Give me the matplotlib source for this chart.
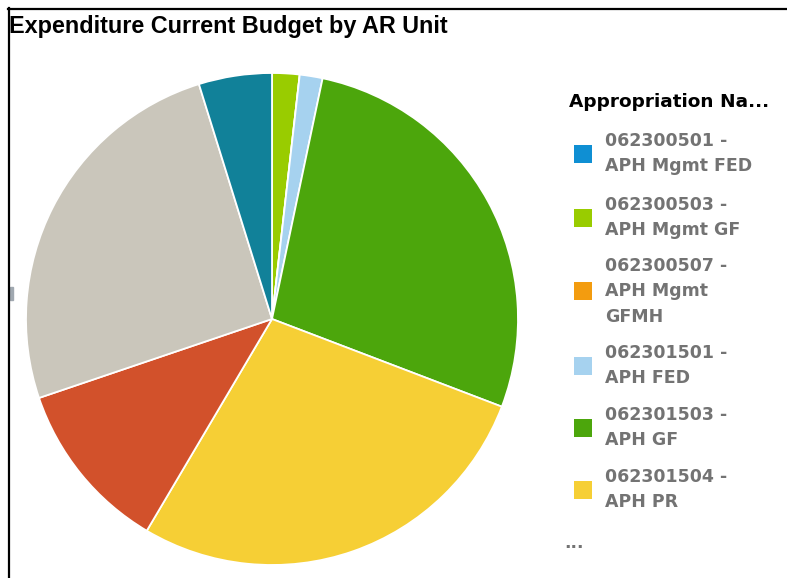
import matplotlib.pyplot as plt
from matplotlib.lines import Line2D
from matplotlib.patches import Rectangle

# budget share per appropriation (percent), clockwise from 12 o'clock
names = [
    "062300501 -\nAPH Mgmt FED",
    "062300503 -\nAPH Mgmt GF",
    "062300507 -\nAPH Mgmt\nGFMH",
    "062301501 -\nAPH FED",
    "062301503 -\nAPH GF",
    "062301504 -\nAPH PR",
    None,
    None,
    None,
]
shares = [0.0, 1.8, 0.0, 1.5, 27.5, 27.7, 11.3, 25.4, 4.8]
colors = ["#0f8fd3", "#99cc00", "#f39c0f", "#a6d2ef", "#4ca60c",
          "#f6cf35", "#d2512b", "#cac6bb", "#118199"]

W, H = 787, 578
fig = plt.figure(figsize=(W / 100, H / 100), dpi=100)

# pie area in pixels: centre (272, 319), radius 246
cx, cy, r = 272, 319, 246
ax = fig.add_axes([(cx - r) / W, (H - cy - r) / H, 2 * r / W, 2 * r / H])
ax.pie(shares, colors=colors, startangle=90, counterclock=False, radius=1,
       wedgeprops=dict(edgecolor="white", linewidth=1.3))
ax.set_xlim(-1, 1)
ax.set_ylim(-1, 1)
ax.set_aspect("equal")
ax.axis("off")

# frame lines on top and left
fig.add_artist(Line2D([8 / W, 1], [1 - 8.5 / H, 1 - 8.5 / H], color="black",
                      linewidth=1.6, transform=fig.transFigure))
fig.add_artist(Line2D([8.5 / W, 8.5 / W], [0, 1 - 8 / H], color="black",
                      linewidth=1.6, transform=fig.transFigure))
fig.add_artist(Rectangle((10 / W, 1 - 300 / H), 3 / W, 13 / H, color="#a0a8b0",
                         transform=fig.transFigure))

fig.text(9 / W, 1 - 27 / H, "Expenditure Current Budget by AR Unit",
         fontsize=16.8, fontweight="bold", family="Liberation Sans",
         va="center", ha="left", color="black")

# legend
fig.text(569 / W, 1 - 102 / H, "Appropriation Na...", fontsize=13.3,
         fontweight="bold", family="DejaVu Sans", va="center", ha="left")

text_top = [141, 205, 266, 353, 415, 477]
line_gap = 25.3
for name, col, y0 in zip(names[:6], colors[:6], text_top):
    lines = name.split("\n")
    ymid = y0 + line_gap * (len(lines) - 1) / 2
    fig.add_artist(Rectangle((574 / W, 1 - (ymid + 9) / H), 18 / W, 18 / H,
                             facecolor=col, edgecolor="none",
                             transform=fig.transFigure))
    for i, ln in enumerate(lines):
        fig.text(605 / W, 1 - (y0 + i * line_gap) / H, ln, fontsize=12.5,
                 fontweight="bold", family="DejaVu Sans", color="#737373",
                 va="center", ha="left")

fig.text(564 / W, 1 - 543 / H, "...", fontsize=12.5, fontweight="bold",
         family="DejaVu Sans", color="#737373", va="center", ha="left")

fig.savefig("out.png", dpi=100, facecolor="white")
